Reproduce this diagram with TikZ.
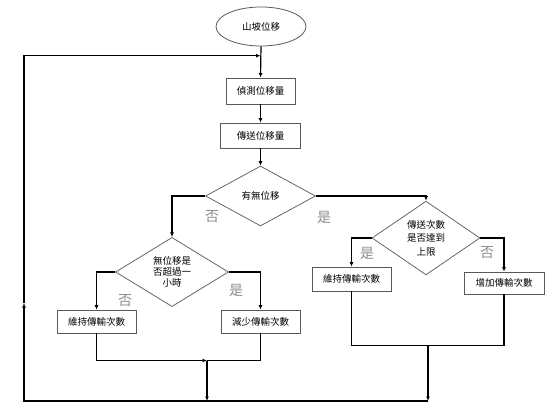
\documentclass[tikz,border=0pt]{standalone}
\usepackage{fontspec}
\setmainfont{Noto Sans CJK TC}
\usetikzlibrary{shapes.geometric,arrows.meta}
\begin{document}
\begin{tikzpicture}[x=1pt,y=-1pt,
  flowline/.style={line width=1.2pt,black},
  arr/.style={flowline,-{Latex[length=4.5pt,width=4pt]}},
  procbox/.style={draw=black!65,line width=0.8pt,rectangle,inner sep=0pt,
    font=\fontsize{9.5}{11}\selectfont,text=black},
  decide/.style={draw=black!60,line width=0.8pt,diamond,inner sep=0pt,
    font=\fontsize{9.5}{12}\selectfont,text=black,align=center},
  yn/.style={font=\fontsize{14}{14}\selectfont,text=black!45,inner sep=0pt}
]
\useasboundingbox (0,0) rectangle (552,412);
% nodes
\node[draw=black!65,line width=0.8pt,ellipse,minimum width=90pt,minimum height=39pt,inner sep=0pt,
  font=\fontsize{9.5}{11}\selectfont,text=black] (start) at (261,26.5) {山坡位移};
\node[procbox,minimum width=69pt,minimum height=26pt] (b1) at (260.5,91) {偵測位移量};
\node[procbox,minimum width=80pt,minimum height=25pt] (b2) at (260.5,135.5) {傳送位移量};
\node[decide,minimum width=110pt,minimum height=60pt] (d1) at (260.5,196) {有無位移};
\node[decide,minimum width=108pt,minimum height=62pt,font=\fontsize{9.5}{13.5}\selectfont] (d2) at (426,238) {傳送次數\\是否達到\\上限};
\node[decide,minimum width=113pt,minimum height=60pt,font=\fontsize{9.5}{11.2}\selectfont] (d3) at (172,272) {無位移是\\否超過一\\小時};
\node[procbox,minimum width=79pt,minimum height=23pt] (bL1) at (96.5,321.5) {維持傳輸次數};
\node[procbox,minimum width=79pt,minimum height=23pt] (bL2) at (260.5,321.5) {減少傳輸次數};
\node[procbox,minimum width=79pt,minimum height=24pt] (bR1) at (351.5,279) {維持傳輸次數};
\node[procbox,minimum width=80pt,minimum height=22pt] (bR2) at (504,283) {增加傳輸次數};
% labels
\node[yn] (n1) at (212,217) {否};
\node[yn] (y1) at (324,217) {是};
\node[yn] (n3) at (125,301) {否};
\node[yn] (y3) at (236,290) {是};
\node[yn] (y2) at (367,253) {是};
\node[yn] (n2) at (487,253) {否};
% coordinates
\coordinate (top) at (260.5,55.7);
\coordinate (mL) at (207,360.5);
\coordinate (mR) at (428,345.5);
\coordinate (bot1) at (207,401);
\coordinate (bot2) at (428,401);
\coordinate (BL) at (24,401);
\coordinate (upmid) at (24,303);
\coordinate (TL) at (24,55.7);
% connectors
\draw[arr] (start.south) -- (b1.north);
\draw[arr] (b1) -- (b2);
\draw[arr] (b2) -- (d1);
\draw[arr] (d1.west) -| (d3.north);
\draw[arr] (d1.east) -| (d2.north);
\draw[arr] (d3.west) -| (bL1.north);
\draw[arr] (d3.east) -| (bL2.north);
\draw[arr] (d2.west) -| (bR1.north);
\draw[arr] (d2.east) -| (bR2.north);
\draw[arr] (bL1.south) |- (mL);
\draw[flowline] (bL2.south) |- (mL);
\draw[arr] (mL) -- (bot1);
\draw[flowline] (bR1.south) |- (mR);
\draw[flowline] (bR2.south) |- (mR);
\draw[arr] (mR) -- (bot2);
\draw[arr] (bot2) -- (BL) -- (upmid);
\draw[arr] (upmid) -- (TL) -- (top);
\end{tikzpicture}
\end{document}
